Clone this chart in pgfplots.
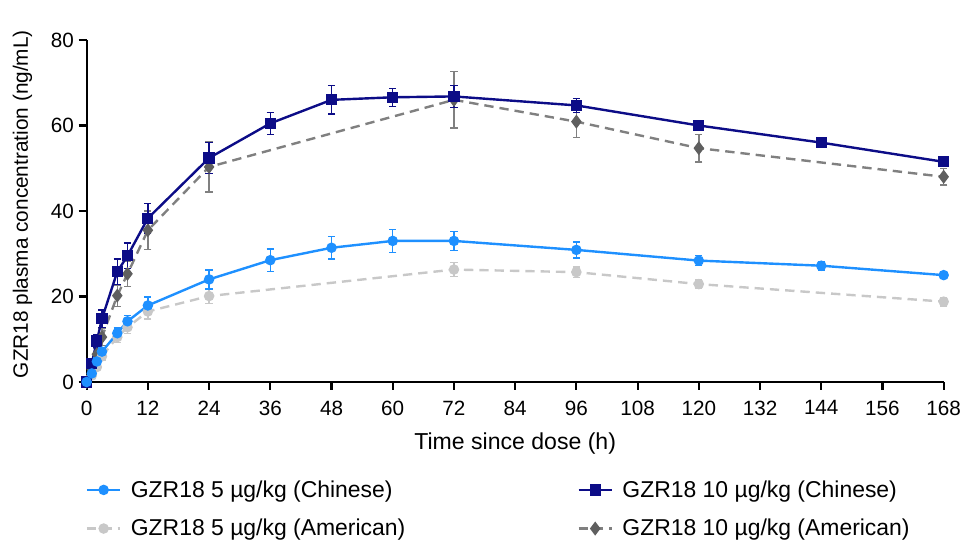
\documentclass[border=0pt]{standalone}
\usepackage{fontspec}
\setmainfont{Liberation Sans}
\usepackage{pgfplots}
\pgfplotsset{compat=1.18}
\definecolor{cLB}{RGB}{30,144,255}
\definecolor{cDB}{RGB}{12,12,135}
\definecolor{cLG}{RGB}{200,200,200}
\definecolor{cDG}{RGB}{128,128,128}
\definecolor{cDGm}{RGB}{95,95,95}
\begin{document}
\begin{tikzpicture}
\useasboundingbox (0,0) rectangle (720.75pt,406.5pt);
\begin{axis}[
  at={(65pt,120pt)}, anchor=south west,
  scale only axis, width=642.75pt, height=256.5pt,
  xmin=0, xmax=168, ymin=0, ymax=80,
  axis lines*=left,
  axis line style={line width=1.6pt},
  xtick={0,12,...,168}, ytick={0,20,...,80},
  minor tick num=0,
  tick style={line width=1.6pt, black},
  tick align=outside, major tick length=6pt,
  tick label style={font=\fontsize{15.5}{17}\selectfont},
  xticklabel style={yshift=-4.5pt},
  /pgf/number format/assume math mode=true,
  xlabel={Time since dose (h)},
  ylabel={GZR18 plasma concentration (ng/mL)},
  xlabel style={font=\fontsize{17.3}{19}\selectfont, at={(axis description cs:0.5,-0.18)}, anchor=center},
  ylabel style={font=\fontsize{15.6}{18}\selectfont, at={(axis description cs:-0.075,0.52)}, anchor=center},
  clip=false,
  legend columns=2, reverse legend,
  legend cell align=left,
  legend style={at={(axis description cs:-0.006,-0.272)}, anchor=north west, draw=none,
    font=\fontsize{17.2}{19}\selectfont,
    /tikz/every even column/.append style={column sep=127pt},
    /tikz/every odd column/.append style={column sep=5pt}, row sep=11pt},
  legend image code/.code={\draw[mark repeat=2,mark phase=2,#1] plot coordinates {(0pt,0pt)(12.5pt,0pt)(25pt,0pt)};},
  error bars/y dir=both, error bars/y explicit,
]
% American 10 (dark gray, diamonds, dashed)
\addplot[color=cDG, line width=1.8pt, dash pattern=on 7pt off 4.5pt,
  mark=diamond*, mark size=3.8pt, mark options={solid, draw=cDGm, fill=cDGm},
  error bars/error bar style={line width=1.1pt, solid, color=cDG},
  error bars/error mark options={rotate=90, mark size=2.7pt, line width=1.1pt, color=cDG}]
coordinates {
 (0,0) +- (0,0)
 (1,3.0) +- (0,0.8)
 (2,6.5) +- (0,1.5)
 (3,10.5) +- (0,2.0)
 (6,20.2) +- (0,2.5)
 (8,25.3) +- (0,3.0)
 (12,35.5) +- (0,4.5)
 (24,50.3) +- (0,5.9)
 (72,66.0) +- (0,6.6)
 (96,60.9) +- (0,3.7)
 (120,54.7) +- (0,3.2)
 (168,48.0) +- (0,1.9)
};
\addlegendentry{GZR18 10 µg/kg (American)}
% American 5 (light gray, circles, dashed)
\addplot[color=cLG, line width=1.8pt, dash pattern=on 7pt off 4.5pt,
  mark=*, mark size=3pt, mark options={solid, fill=cLG},
  error bars/error bar style={line width=1.1pt, solid, color=cLG},
  error bars/error mark options={rotate=90, mark size=2.7pt, line width=1.1pt, color=cLG}]
coordinates {
 (0,0) +- (0,0)
 (1,1.5) +- (0,0.5)
 (2,3.5) +- (0,0.8)
 (3,6.0) +- (0,1.0)
 (6,10.5) +- (0,1.3)
 (8,12.8) +- (0,1.5)
 (12,16.5) +- (0,1.8)
 (24,20.1) +- (0,1.8)
 (72,26.3) +- (0,1.6)
 (96,25.7) +- (0,1.2)
 (120,22.9) +- (0,1.0)
 (168,18.8) +- (0,1.0)
};
\addlegendentry{GZR18 5 µg/kg (American)}
% Chinese 10 (navy, squares, solid)
\addplot[color=cDB, line width=1.8pt,
  mark=square*, mark size=3.3pt, mark options={solid, fill=cDB},
  error bars/error bar style={line width=1.1pt, color=cDB},
  error bars/error mark options={rotate=90, mark size=2.7pt, line width=1.1pt, color=cDB}]
coordinates {
 (0,0) +- (0,0)
 (1,4.3) +- (0,0.8)
 (2,9.6) +- (0,1.5)
 (3,14.8) +- (0,2.0)
 (6,25.8) +- (0,3.0)
 (8,29.5) +- (0,3.0)
 (12,38.3) +- (0,3.5)
 (24,52.4) +- (0,3.6)
 (36,60.5) +- (0,2.6)
 (48,66.0) +- (0,3.3)
 (60,66.6) +- (0,2.1)
 (72,66.8) +- (0,2.6)
 (96,64.7) +- (0,1.6)
 (120,60.0) +- (0,1.0)
 (144,56.0) +- (0,1.0)
 (168,51.5) +- (0,1.0)
};
\addlegendentry{GZR18 10 µg/kg (Chinese)}
% Chinese 5 (light blue, circles, solid)
\addplot[color=cLB, line width=1.8pt,
  mark=*, mark size=3pt, mark options={solid, fill=cLB},
  error bars/error bar style={line width=1.1pt, color=cLB},
  error bars/error mark options={rotate=90, mark size=2.7pt, line width=1.1pt, color=cLB}]
coordinates {
 (0,0) +- (0,0)
 (1,2.0) +- (0,0.5)
 (2,4.8) +- (0,0.8)
 (3,7.1) +- (0,1.0)
 (6,11.4) +- (0,1.2)
 (8,14.2) +- (0,1.3)
 (12,17.9) +- (0,2.0)
 (24,24.0) +- (0,2.2)
 (36,28.5) +- (0,2.6)
 (48,31.4) +- (0,2.6)
 (60,33.0) +- (0,2.7)
 (72,33.0) +- (0,2.2)
 (96,30.9) +- (0,1.9)
 (120,28.4) +- (0,1.2)
 (144,27.2) +- (0,1.0)
 (168,25.0) +- (0,0.4)
};
\addlegendentry{GZR18 5 µg/kg (Chinese)}
\end{axis}
\end{tikzpicture}
\end{document}
